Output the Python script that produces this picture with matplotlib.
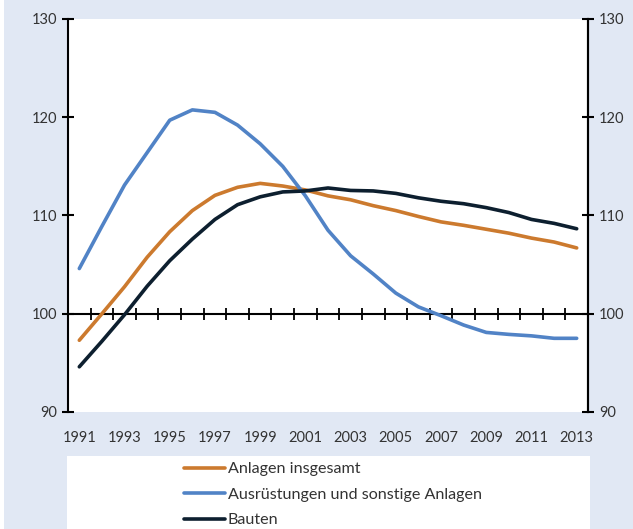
import numpy as np
import matplotlib
matplotlib.use("Agg")
import matplotlib.pyplot as plt
from matplotlib.patches import Rectangle

years = np.arange(1991, 2014)

anlagen_insgesamt = [97.3, 100.0, 102.75, 105.75, 108.35, 110.5, 112.05, 112.87, 113.27,
                     113.0, 112.6, 112.0, 111.6, 111.0, 110.5, 109.9, 109.35, 109.0,
                     108.6, 108.2, 107.7, 107.3, 106.7]
ausruestungen = [104.6, 108.9, 113.1, 116.4, 119.7, 120.75, 120.5, 119.2, 117.3,
                 115.0, 112.0, 108.5, 105.9, 104.05, 102.1, 100.7, 99.8, 98.85,
                 98.1, 97.9, 97.75, 97.5, 97.5]
bauten = [94.6, 97.2, 99.9, 102.8, 105.4, 107.6, 109.6, 111.1, 111.9,
          112.4, 112.5, 112.8, 112.55, 112.5, 112.25, 111.8, 111.45, 111.2,
          110.8, 110.3, 109.6, 109.2, 108.65]

labels = ["Anlagen insgesamt", "Ausrüstungen und sonstige Anlagen", "Bauten"]
colors = ["#cc7a2e", "#5183c6", "#0d1f2f"]

y_ticks = [90, 100, 110, 120, 130]
x_ticks = np.arange(1991, 2014, 2)

plt.rcParams["font.family"] = ["Lato", "DejaVu Sans"]
BG = "#e1e8f4"
TXT = "#333333"

fig = plt.figure(figsize=(6.33, 5.29), dpi=100, facecolor=BG)
fig.patches.append(Rectangle((0, 0), 4 / 633, 1, transform=fig.transFigure,
                             facecolor="white", edgecolor="none", zorder=0))
fig.patches.append(Rectangle((67 / 633, 0), (590 - 67) / 633, 1 - 456 / 529,
                             transform=fig.transFigure, facecolor="white",
                             edgecolor="none", zorder=0))

ax = fig.add_axes([68 / 633, 1 - 412 / 529, 520 / 633, 393 / 529])
ax.set_facecolor("white")

for vals, lab, col in zip([anlagen_insgesamt, ausruestungen, bauten], labels, colors):
    ax.plot(years, vals, color=col, lw=2.6, label=lab, solid_capstyle="round", zorder=3)

ax.set_xlim(1990.5, 2013.5)
ax.set_ylim(90, 130)
ax.set_yticks(y_ticks)
ax.set_xticks(x_ticks)
ax.set_xticklabels([str(y) for y in x_ticks])

for s in ["top", "bottom"]:
    ax.spines[s].set_visible(False)
for s in ["left", "right"]:
    ax.spines[s].set_linewidth(1.5)
    ax.spines[s].set_color("black")

ax.tick_params(axis="x", length=0, pad=14, labelsize=10.5, labelcolor=TXT)
ax.tick_params(axis="y", direction="inout", length=8, width=1.5,
               labelsize=10.5, labelcolor=TXT, pad=4)

ax2 = ax.twinx()
ax2.set_ylim(ax.get_ylim())
ax2.set_yticks(y_ticks)
for s in ["top", "bottom", "left"]:
    ax2.spines[s].set_visible(False)
ax2.spines["right"].set_linewidth(1.5)
ax2.tick_params(axis="y", direction="inout", length=8, width=1.5,
                labelsize=10.5, labelcolor=TXT, pad=4)

# baseline at 100 with year-boundary ticks
base = ax.secondary_xaxis(0.25)
base.set_xticks(np.arange(1991.5, 2013, 1))
base.tick_params(direction="inout", length=8, width=1.3, labelbottom=False)
base.spines["bottom"].set_linewidth(1.5)

fig.legend(loc="upper left", bbox_to_anchor=(184 / 633, 1 - 462 / 529),
           frameon=False, fontsize=11.6, handlelength=2.55, handletextpad=0.15,
           labelspacing=0.7, borderpad=0, borderaxespad=0, labelcolor=TXT)

fig.savefig("out.png", dpi=100, facecolor=BG)
